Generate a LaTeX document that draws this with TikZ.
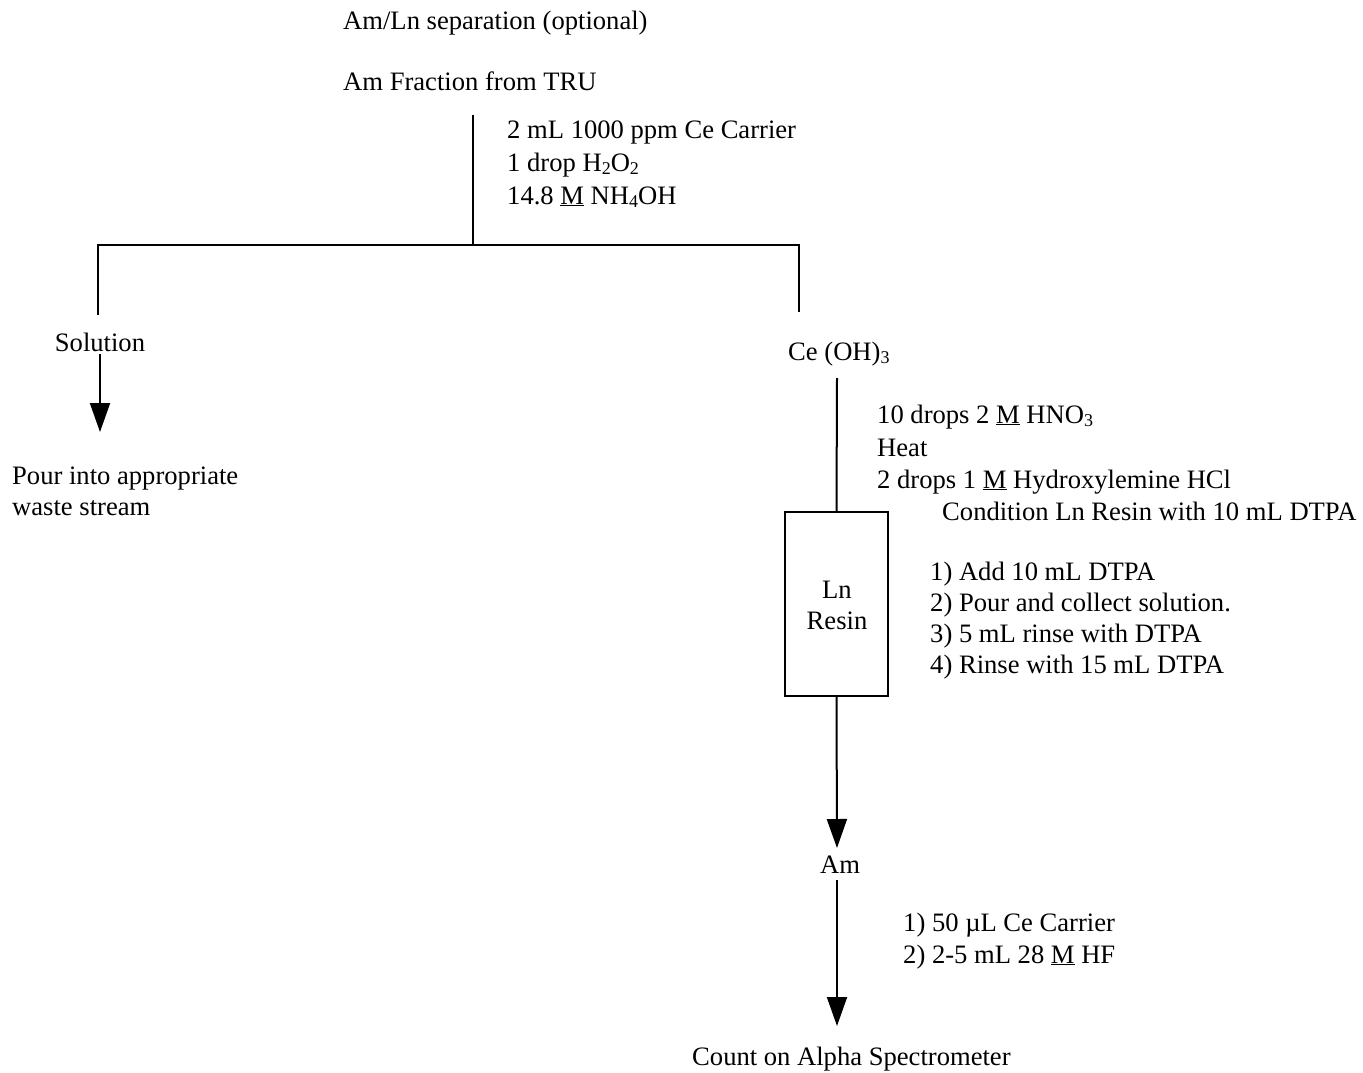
\documentclass[tikz,border=0pt]{standalone}
\usepackage{fontspec}
\setmainfont{Liberation Serif}
\usetikzlibrary{arrows.meta}
\newcommand{\chemsub}[1]{\raisebox{-0.3ex}{\fontsize{18}{18}\selectfont #1}}
\begin{document}
\begin{tikzpicture}[x=1pt,y=-1pt,
  txt/.style={inner sep=0pt,anchor=base west,font=\fontsize{26.6}{32}\selectfont},
  ctxt/.style={inner sep=0pt,anchor=base,font=\fontsize{26.6}{32}\selectfont},
  ln/.style={line width=2pt},
  arr/.style={line width=2pt,-{Triangle[length=29pt,width=20pt]}},
  resinbox/.style={draw,line width=2pt,minimum width=103pt,minimum height=184pt,inner sep=0pt}]
\useasboundingbox (0,0) rectangle (1363,1073);
% titles
\node[txt] (title) at (343,30) {Am/Ln separation (optional)};
\node[txt] (amfrac) at (343,91) {Am Fraction from TRU};
% first step
\coordinate (v1top) at (473,115);
\coordinate (v1bot) at (473,245);
\draw[ln] (v1top) -- (v1bot);
\node[txt] (r1a) at (507,138) {2 mL 1000 ppm Ce Carrier};
\node[txt] (r1b) at (507,171) {1 drop H\chemsub{2}O\chemsub{2}};
\node[txt] (r1c) at (507,204) {14.8 \underline{M} NH\chemsub{4}OH};
% split
\coordinate (hl) at (98,245);
\coordinate (hr) at (799,245);
\coordinate (ldown) at (98,315);
\coordinate (rdown) at (799,312);
\draw[ln] (ldown) -- (hl) -- (hr) -- (rdown);
% left branch
\node[ctxt] (sol) at (100,351) {Solution};
\coordinate (soltip) at (100,432);
\draw[arr] (sol.south) ++(0,3) -- (soltip);
\node[txt] (pour1) at (12,484) {Pour into appropriate};
\node[txt] (pour2) at (12,515) {waste stream};
% right branch
\node[txt] (ceoh) at (788,360) {Ce (OH)\chemsub{3}};
\node[resinbox] (resin) at (836.5,604) {};
\node[ctxt] (resin1) at (837,598) {Ln};
\node[ctxt] (resin2) at (837,629) {Resin};
\coordinate (celine) at (837,378);
\draw[ln] (celine) -- (resin.north);
\node[txt] (r2a) at (877,423) {10 drops 2 \underline{M} HNO\chemsub{3}};
\node[txt] (r2b) at (877,456) {Heat};
\node[txt] (r2c) at (877,488) {2 drops 1 \underline{M} Hydroxylemine HCl};
\node[txt] (r2d) at (942,520) {Condition Ln Resin with 10 mL DTPA};
\node[txt] (s1) at (930,580) {1) Add 10 mL DTPA};
\node[txt] (s2) at (930,611) {2) Pour and collect solution.};
\node[txt] (s3) at (930,642) {3) 5 mL rinse with DTPA};
\node[txt] (s4) at (930,673) {4) Rinse with 15 mL DTPA};
\coordinate (amtip) at (837,848);
\draw[arr] (resin.south) -- (amtip);
\node[ctxt] (am) at (840,873) {Am};
\coordinate (amstart) at (837,880);
\coordinate (counttip) at (837,1026);
\draw[arr] (amstart) -- (counttip);
\node[txt] (r3a) at (903,931) {1) 50 µL Ce Carrier};
\node[txt] (r3b) at (903,963) {2) 2-5 mL 28 \underline{M} HF};
\node[txt] (count) at (692,1065) {Count on Alpha Spectrometer};
\end{tikzpicture}
\end{document}
